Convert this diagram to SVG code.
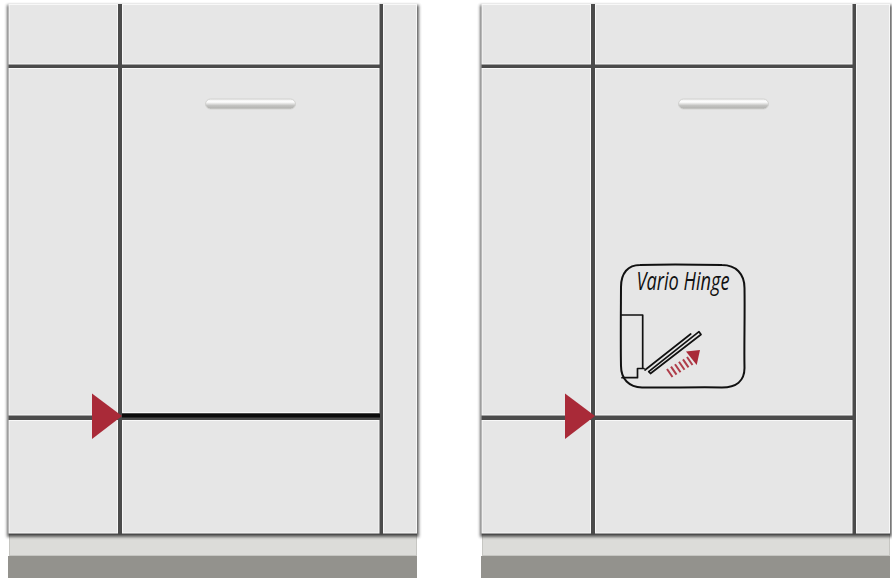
<svg xmlns="http://www.w3.org/2000/svg" xmlns:xlink="http://www.w3.org/1999/xlink" width="892" height="578" viewBox="0 0 892 578">
<style>
.panel{fill:#e6e6e6;stroke:#f8f8f8;stroke-width:1}
.gap{fill:#4c4c4c}
.base{fill:#93928d}
.plinth{fill:#dcdcd9;stroke:#c6c6c2;stroke-width:1}
.mark{fill:#a92a38}
.ink{fill:none;stroke:#111;stroke-linecap:round;stroke-linejoin:round}
.red{fill:none;stroke:#a92a38;stroke-width:2;opacity:.9}
</style>
<defs>
<filter id="blur" x="-5%" y="-5%" width="110%" height="110%"><feGaussianBlur stdDeviation="1.800"/></filter>
<filter id="soft" x="-5%" y="-5%" width="110%" height="110%"><feGaussianBlur stdDeviation="0.700"/></filter>
<linearGradient id="handle" x1="0" y1="0" x2="0" y2="1">
<stop offset="0" stop-color="#efefef"/><stop offset="0.3" stop-color="#fefefe"/><stop offset="0.65" stop-color="#c4c4c2"/><stop offset="1" stop-color="#aeaeab"/>
</linearGradient>
<g id="cabinet">
<rect class="base" x="8" y="556" width="409" height="22"/>
<rect class="plinth" x="9.500" y="530" width="407" height="25.500"/>
<rect x="7" y="5" width="412" height="532" fill="#222" opacity="0.7" filter="url(#blur)"/>
<rect class="gap" x="9" y="4" width="408" height="531" filter="url(#soft)"/>
<rect class="panel" x="9" y="4.500" width="108.500" height="59.500"/>
<rect class="panel" x="122.500" y="4.500" width="256.500" height="59.500"/>
<rect class="panel" x="383.500" y="4.500" width="33" height="528.500"/>
<rect class="panel" x="9" y="68.500" width="108.500" height="346.500"/>
<rect class="panel" x="9" y="420.500" width="108.500" height="112.500"/>
<rect class="panel" x="122.500" y="420.500" width="256.500" height="112.500"/>
</g>
<g id="fittings">
<rect x="205.500" y="99" width="90" height="10" rx="5" fill="url(#handle)" stroke="#d2d2d0" stroke-width="1"/>
<path class="mark" d="M92 393.500L122 416L92 439Z"/>
</g>
</defs>
<g id="cabinet-left">
<use xlink:href="#cabinet" href="#cabinet"/>
<rect class="panel" x="122.500" y="68.500" width="256.500" height="344"/>
<rect x="122" y="414" width="258" height="3.500" fill="#0c0c0c"/>
<use xlink:href="#fittings" href="#fittings"/>
</g>
<g id="cabinet-right" transform="translate(473 0)">
<use xlink:href="#cabinet" href="#cabinet"/>
<rect class="panel" x="122.500" y="68.500" width="256.500" height="346.500"/>
<use xlink:href="#fittings" href="#fittings"/>
</g>
<g id="vario-hinge">
<path class="ink" stroke-width="2" d="M640 265C665 264 700 264.500 722 265C736 265 744.500 274 744.500 288C745 315 744 345 744.500 368C744.500 381 736 387.500 722 387.500C695 387 665 388 642 387.500C629 387 621 379 621 366C620.500 340 621 300 621 287C621 273 628 265 640 265Z"/>
<text x="683" y="290" text-anchor="middle" font-family="'Open Sans','DejaVu Sans',sans-serif" font-style="italic" font-size="25" textLength="93" lengthAdjust="spacingAndGlyphs" fill="#111">Vario Hinge</text>
<path class="ink" stroke-width="1.700" d="M621 315H642.700V368.500H637.500V377.700H622M637.500 368.500H644"/>
<path class="ink" stroke-width="1.700" d="M645 370L690.700 334"/>
<path class="ink" stroke-width="1.700" d="M648.700 371.700L699 331.700L701 334.500L650.500 373.500Z"/>
<path class="red" d="M667 369L672.500 377M671 366.600L676.500 374.600M675 364.200L680.500 372.200M679 361.800L684.500 369.800M683 359.400L688.500 367.400M687 357L692.500 365"/>
<path class="mark" d="M700 350L686 351.500L696.700 365Z"/>
</g>
</svg>
